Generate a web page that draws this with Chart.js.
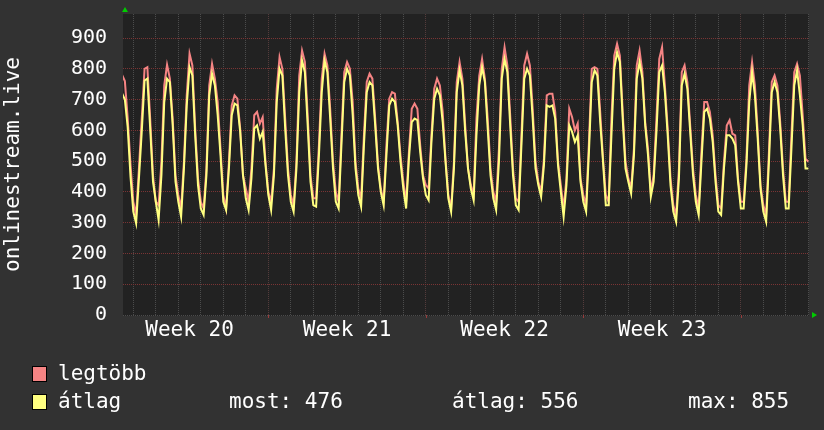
<!DOCTYPE html>
<html><head><meta charset="utf-8">
<script src="https://cdn.jsdelivr.net/npm/chart.js@4.4.1/dist/chart.umd.min.js"></script>
<style>html,body{margin:0;padding:0;background:#323232;}canvas{display:block;}</style>
</head><body>
<canvas id="c" width="824" height="430"></canvas>
<script>
// time axis: days since start of Week 20 (3-hour samples)
const startDay = -0.5;
const stepDays = 0.125;
const weekLabels = ['Week 20', 'Week 21', 'Week 22', 'Week 23'];
const weekLabelDays = [2.5, 9.5, 16.5, 23.5];
const weekBoundaryDays = [6, 13, 20, 27];
const yTickValues = [0, 100, 200, 300, 400, 500, 600, 700, 800, 900];
const seriesLabels = ['legtöbb', 'átlag'];
const statLabels = ['most', 'átlag', 'max'];
const statValues = [476, 556, 855];

// legtöbb (max)
const maxSeries = [
  780, 760, 640, 490,
  368, 325, 476, 638, 800, 805, 638, 454,
  368, 357, 498, 746, 813, 768, 638, 454,
  390, 346, 498, 714, 849, 811, 606, 444,
  368, 346, 476, 746, 816, 768, 692, 541,
  390, 346, 498, 681, 714, 703, 606, 454,
  411, 368, 476, 649, 660, 622, 643, 498,
  400, 368, 476, 735, 838, 800, 638, 476,
  390, 357, 498, 778, 859, 822, 649, 454,
  379, 379, 552, 768, 849, 811, 670, 498,
  400, 368, 584, 789, 822, 800, 692, 498,
  411, 379, 584, 757, 784, 768, 638, 487,
  411, 368, 552, 703, 724, 719, 627, 519,
  433, 368, 530, 670, 687, 670, 552, 454,
  422, 411, 584, 735, 768, 746, 660, 508,
  390, 346, 498, 757, 822, 768, 616, 476,
  422, 390, 638, 778, 832, 768, 638, 476,
  400, 368, 541, 800, 870, 811, 649, 476,
  379, 368, 584, 811, 849, 811, 670, 498,
  433, 400, 508, 714, 719, 719, 660, 498,
  422, 346, 444, 670, 643, 600, 622, 444,
  390, 357, 562, 800, 805, 800, 660, 508,
  390, 368, 638, 843, 881, 843, 660, 498,
  444, 411, 541, 811, 859, 789, 627, 541,
  400, 454, 638, 832, 870, 746, 606, 444,
  357, 325, 476, 789, 811, 757, 616, 476,
  390, 346, 530, 692, 692, 660, 584, 454,
  357, 346, 498, 616, 633, 589, 584, 444,
  368, 368, 508, 746, 822, 746, 595, 422,
  357, 325, 530, 757, 778, 746, 627, 476,
  368, 368, 584, 789, 816, 778, 649, 508,
  498
];

// átlag (average)
const avgSeries = [
  720, 700, 610, 450,
  336, 298, 444, 595, 762, 768, 606, 433,
  368, 309, 454, 692, 768, 757, 616, 433,
  368, 319, 476, 681, 805, 778, 584, 422,
  346, 325, 454, 714, 784, 746, 649, 519,
  368, 341, 476, 649, 687, 681, 595, 454,
  379, 341, 444, 606, 616, 573, 595, 487,
  390, 341, 454, 692, 800, 778, 606, 454,
  368, 336, 476, 724, 827, 789, 616, 433,
  357, 352, 519, 724, 827, 789, 638, 476,
  368, 346, 552, 757, 800, 778, 649, 476,
  390, 352, 552, 724, 757, 746, 616, 476,
  400, 357, 519, 681, 703, 692, 616, 498,
  411, 346, 508, 627, 638, 633, 530, 444,
  390, 373, 562, 703, 735, 714, 627, 498,
  379, 336, 476, 724, 795, 746, 595, 476,
  411, 373, 584, 746, 805, 757, 606, 454,
  379, 341, 498, 768, 832, 789, 616, 454,
  357, 341, 552, 768, 800, 778, 638, 476,
  422, 384, 487, 681, 676, 681, 638, 487,
  400, 319, 422, 616, 595, 562, 584, 433,
  368, 336, 530, 757, 795, 778, 627, 498,
  357, 357, 584, 800, 854, 822, 638, 476,
  433, 395, 519, 768, 822, 768, 616, 519,
  384, 433, 595, 789, 811, 724, 584, 422,
  336, 303, 444, 746, 784, 735, 595, 454,
  368, 325, 498, 660, 670, 638, 562, 433,
  336, 325, 476, 584, 584, 573, 552, 433,
  346, 346, 487, 692, 789, 714, 573, 411,
  336, 303, 498, 724, 757, 724, 606, 454,
  346, 346, 541, 746, 795, 714, 616, 476,
  476
];

const PINK = '#f58484';
const YELLOW = '#ffff80';
const FONT = 'DejaVu Sans Mono';
const toPoints = arr => arr.map((v, i) => ({x: startDay + i * stepDays, y: v}));

const bgPlugin = {
  id: 'bg',
  beforeDraw(chart) {
    const {ctx, chartArea: a} = chart;
    ctx.save();
    ctx.fillStyle = '#323232';
    ctx.fillRect(0, 0, chart.width, chart.height);
    ctx.fillStyle = '#222222';
    ctx.fillRect(a.left, a.top, a.right - a.left, a.bottom - a.top + 1);
    ctx.restore();
  }
};

const decorPlugin = {
  id: 'decor',
  afterDraw(chart) {
    const {ctx, chartArea: a} = chart;
    const xs = chart.scales.x;
    ctx.save();
    // small red week ticks below the axis
    ctx.strokeStyle = '#9a3c3c';
    ctx.lineWidth = 1;
    weekBoundaryDays.forEach(d => {
      const px = Math.round(xs.getPixelForValue(d)) + 0.5;
      ctx.beginPath(); ctx.moveTo(px, a.bottom); ctx.lineTo(px, a.bottom + 3); ctx.stroke();
    });
    // green arrows
    ctx.fillStyle = '#00cc00';
    ctx.beginPath();
    ctx.moveTo(a.left + 2, a.top - 7); ctx.lineTo(a.left - 1, a.top - 2); ctx.lineTo(a.left + 5, a.top - 2);
    ctx.closePath(); ctx.fill();
    ctx.beginPath();
    ctx.moveTo(a.right + 8, a.bottom); ctx.lineTo(a.right + 3, a.bottom - 3); ctx.lineTo(a.right + 3, a.bottom + 3);
    ctx.closePath(); ctx.fill();
    // y axis title
    ctx.fillStyle = '#ffffff';
    ctx.font = '21px "' + FONT + '"';
    ctx.translate(18.5, (a.top + a.bottom) / 2);
    ctx.rotate(-Math.PI / 2);
    ctx.textAlign = 'center';
    ctx.textBaseline = 'alphabetic';
    ctx.fillText('onlinestream.live', 0, 0);
    ctx.restore();

    // legend
    ctx.save();
    ctx.font = '21px "' + FONT + '"';
    ctx.textBaseline = 'alphabetic';
    const colors = [PINK, YELLOW];
    const rowsY = [380, 408];
    seriesLabels.forEach((lab, i) => {
      ctx.fillStyle = colors[i];
      ctx.fillRect(32, rowsY[i] - 14, 14, 15);
      ctx.strokeStyle = '#000';
      ctx.lineWidth = 1;
      ctx.strokeRect(32.5, rowsY[i] - 13.5, 14, 15);
      ctx.fillStyle = '#ffffff';
      ctx.fillText(lab, 58, rowsY[i]);
    });
    const statX = [229, 452, 688];
    statLabels.forEach((s, i) => {
      ctx.fillText(s + ': ' + statValues[i], statX[i], rowsY[1]);
    });
    ctx.restore();
  }
};

new Chart(document.getElementById('c'), {
  type: 'line',
  data: {
    datasets: [
      {label: seriesLabels[1], data: toPoints(avgSeries), borderColor: YELLOW, borderWidth: 2, pointRadius: 0, tension: 0, order: 0},
      {label: seriesLabels[0], data: toPoints(maxSeries), borderColor: PINK, borderWidth: 2, pointRadius: 0, tension: 0, order: 1}
    ]
  },
  options: {
    responsive: false,
    animation: false,
    devicePixelRatio: 1,
    layout: {padding: {top: 14, right: 15, left: 0, bottom: 0}},
    plugins: {legend: {display: false}, tooltip: {enabled: false}},
    scales: {
      x: {
        type: 'linear',
        min: -0.458,
        max: 30.03,
        afterBuildTicks: s => {
          const t = [];
          for (let d = 0; d <= 30; d++) t.push({value: d});
          weekLabelDays.forEach(v => t.push({value: v}));
          t.sort((p, q) => p.value - q.value);
          s.ticks = t;
        },
        afterFit: s => { s.height = 115; s.paddingLeft = 0; s.paddingRight = 0; },
        ticks: {
          autoSkip: false, maxRotation: 0, minRotation: 0, color: '#ffffff',
          font: {family: FONT, size: 21}, padding: 3,
          callback: v => { const i = weekLabelDays.indexOf(v); return i >= 0 ? weekLabels[i] : ''; }
        },
        grid: {
          drawTicks: false, lineWidth: 1,
          color: c => {
            const v = c.tick.value;
            if (!Number.isInteger(v)) return 'rgba(0,0,0,0)';
            return weekBoundaryDays.includes(v) ? '#553c3c' : '#4c4c4c';
          }
        },
        border: {display: false, dash: [1, 1]}
      },
      y: {
        min: 0,
        max: 978,
        afterBuildTicks: s => {
          const t = [];
          for (let v = 0; v <= 960; v += 20) t.push({value: v});
          s.ticks = t;
        },
        afterFit: s => { s.width = 123; s.paddingTop = 0; s.paddingBottom = 0; },
        ticks: {
          color: '#ffffff', font: {family: FONT, size: 20}, padding: 16,
          callback: v => yTickValues.includes(v) ? String(v) : ''
        },
        grid: {
          drawTicks: false, lineWidth: 1,
          color: c => {
            const v = c.tick.value;
            if (v === 0) return '#4c4c4c';
            return (v % 100 === 0) ? '#7a3434' : '#4c4c4c';
          }
        },
        border: {display: false, dash: [1, 1]}
      }
    }
  },
  plugins: [bgPlugin, decorPlugin]
});
</script>
</body></html>
